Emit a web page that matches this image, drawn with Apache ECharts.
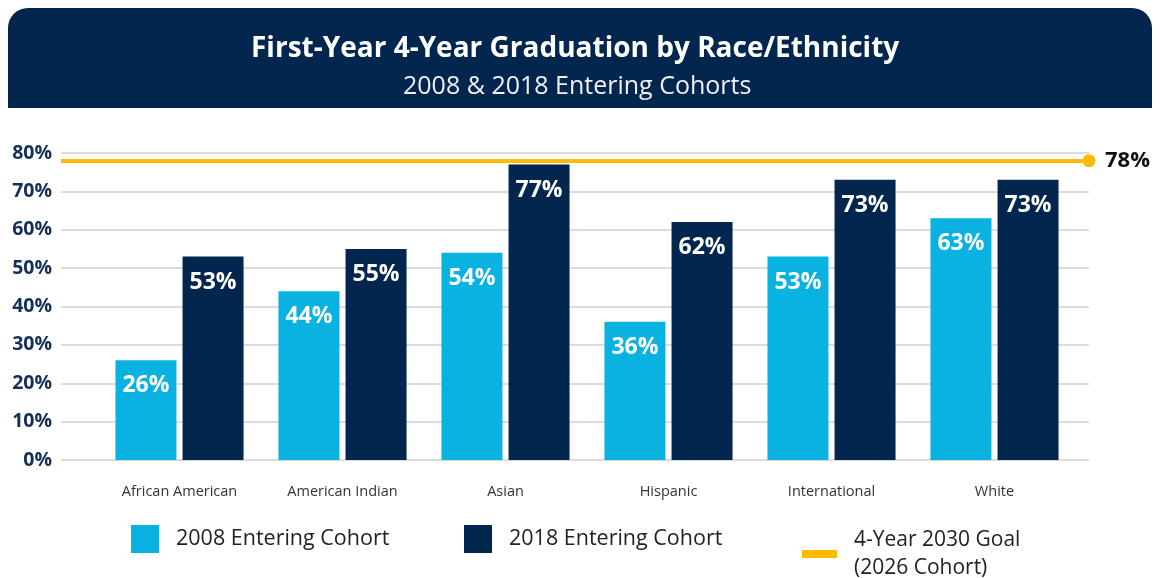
<!DOCTYPE html>
<html>
<head>
<meta charset="utf-8">
<script src="https://cdn.jsdelivr.net/npm/echarts@6/dist/echarts.min.js"></script>
<style>
html,body{margin:0;padding:0;background:#fff;}
#c{width:1160px;height:578px;}
</style>
</head>
<body>
<div id="c"></div>
<script>
var categories = ['African American','American Indian','Asian','Hispanic','International','White'];
var cohort2008 = [26,44,54,36,53,63];
var cohort2018 = [53,55,77,62,73,73];
var goal2030 = 78;
var seriesNames = ['2008 Entering Cohort','2018 Entering Cohort','4-Year 2030 Goal (2026 Cohort)'];
var titleText = 'First-Year 4-Year Graduation by Race/Ethnicity';
var subtitleText = '2008 & 2018 Entering Cohorts';

var FONT = 'Open Sans';
var NAVY = '#03264f';
var LIGHT = '#0ab2e2';
var GOLD = '#fdbb00';

var chart = echarts.init(document.getElementById('c'));
var barLabel = {
  show: true, position: 'insideTop', distance: 14,
  color: '#fff', fontFamily: FONT, fontWeight: 'bold', fontSize: 23,
  formatter: '{c}%'
};
chart.setOption({
  animation: false,
  graphic: [{
    type: 'rect', z: 0,
    shape: {x: 8, y: 8, width: 1144, height: 100, r: [20, 20, 0, 0]},
    style: {fill: NAVY}
  }],
  title: [{
    text: titleText, left: 246, top: 30, z: 10,
    textStyle: {color: '#fff', fontFamily: FONT, fontWeight: 'bold', fontSize: 28}
  }, {
    text: subtitleText, left: 398, top: 69, z: 10,
    textStyle: {color: '#f0f0f0', fontFamily: FONT, fontWeight: 'normal', fontSize: 25}
  }],
  legend: [{
    data: [seriesNames[0]], left: 131, top: 525, padding: 0, itemWidth: 28, itemHeight: 28, icon: 'rect',
    textStyle: {fontFamily: FONT, fontSize: 21.5, color: '#222', padding: [0, 0, 0, 12]}
  }, {
    data: [seriesNames[1]], left: 464, top: 525, padding: 0, itemWidth: 28, itemHeight: 28, icon: 'rect',
    textStyle: {fontFamily: FONT, fontSize: 21.5, color: '#222', padding: [0, 0, 0, 12]}
  }, {
    data: [seriesNames[2]], left: 802, top: 512, padding: 0, itemWidth: 35, itemHeight: 8, icon: 'rect',
    formatter: function () { return '4-Year 2030 Goal\n(2026 Cohort)'; },
    textStyle: {fontFamily: FONT, fontSize: 21, color: '#222', lineHeight: 28, padding: [28, 0, 0, 12]}
  }],
  grid: [
    {left: 61, right: 71, top: 153, bottom: 118},
    {left: 98, right: 84, top: 153, bottom: 118}
  ],
  xAxis: [
    {type: 'value', gridIndex: 0, min: 0, max: 1, show: false},
    {type: 'category', gridIndex: 1, data: categories,
     axisLine: {show: false}, axisTick: {show: false},
     axisLabel: {margin: 24, fontFamily: FONT, fontSize: 14.5, color: '#333'}}
  ],
  yAxis: [
    {type: 'value', gridIndex: 0, min: 0, max: 80, interval: 10,
     axisLine: {show: false}, axisTick: {show: false},
     axisLabel: {formatter: '{value}%', margin: 9, fontFamily: FONT, fontWeight: 'bold', fontSize: 19.5, color: '#14305a'},
     splitLine: {lineStyle: {color: '#d0d0d0', width: 1.5}}},
    {type: 'value', gridIndex: 1, min: 0, max: 80, interval: 10, show: false, splitLine: {show: false}}
  ],
  series: [{
    name: seriesNames[0], type: 'bar', xAxisIndex: 1, yAxisIndex: 1,
    data: cohort2008, barWidth: 61, barGap: '10%', itemStyle: {color: LIGHT}, label: barLabel, z: 3
  }, {
    name: seriesNames[1], type: 'bar', xAxisIndex: 1, yAxisIndex: 1,
    data: cohort2018, barWidth: 61, barGap: '10%', itemStyle: {color: NAVY}, label: barLabel, z: 3
  }, {
    name: seriesNames[2], type: 'line', xAxisIndex: 0, yAxisIndex: 0, data: [],
    color: GOLD, itemStyle: {color: GOLD},
    markLine: {
      silent: true, symbol: ['none', 'circle'], symbolSize: 13,
      lineStyle: {color: GOLD, width: 4, type: 'solid'},
      label: {show: true, position: 'end', distance: 16, formatter: goal2030 + '%',
              color: '#111', fontFamily: FONT, fontWeight: 'bold', fontSize: 22},
      data: [{yAxis: goal2030}]
    }, z: 4
  }]
});
</script>
</body>
</html>
